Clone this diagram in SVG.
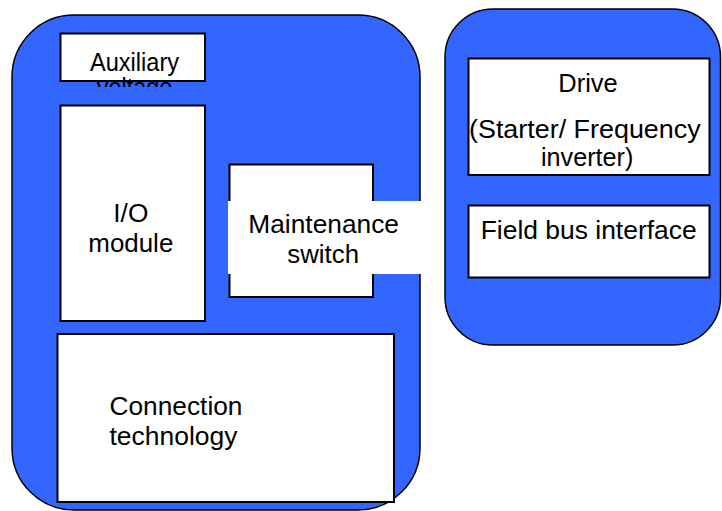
<svg xmlns="http://www.w3.org/2000/svg" width="722" height="511" viewBox="0 0 722 511">
<style>
.cont{fill:#3366FF;stroke:#000;stroke-width:1.5}
.box{fill:#fff;stroke:#000;stroke-width:2}
.t{font-family:"Liberation Sans",Arial,sans-serif;font-size:26px;fill:#000}
</style>
<defs>
<clipPath id="auxclip"><rect x="55" y="30" width="160" height="57"/></clipPath>
</defs>
<rect width="722" height="511" fill="#fff"/>
<g id="module-container">
<rect class="cont" x="12" y="15" width="408" height="495" rx="62" ry="62"/>
</g>
<g id="drive-container">
<rect class="cont" x="445" y="9" width="275.5" height="336" rx="48" ry="48"/>
</g>
<g id="auxiliary-voltage">
<rect class="box" x="60.5" y="33.5" width="144.5" height="47.5"/>
<g clip-path="url(#auxclip)">
<text class="t" x="90" y="70.7" textLength="89" lengthAdjust="spacingAndGlyphs">Auxiliary</text>
<text class="t" x="96.7" y="96" textLength="75.6" lengthAdjust="spacingAndGlyphs">voltage</text>
</g>
</g>
<g id="io-module">
<rect class="box" x="60.5" y="105.5" width="144.5" height="215.5"/>
<text class="t" x="113.3" y="221.7" textLength="35" lengthAdjust="spacingAndGlyphs">I/O</text>
<text class="t" x="88.3" y="251.7" textLength="85" lengthAdjust="spacingAndGlyphs">module</text>
</g>
<g id="maintenance-switch">
<rect class="box" x="229.5" y="164.5" width="143.5" height="132.5"/>
<rect x="228" y="201" width="193" height="73" fill="#fff"/>
<text class="t" x="248.3" y="233.3" textLength="150.7" lengthAdjust="spacingAndGlyphs">Maintenance</text>
<text class="t" x="287.3" y="263.3" textLength="71.7" lengthAdjust="spacingAndGlyphs">switch</text>
</g>
<g id="connection-technology">
<rect class="box" x="57.5" y="334" width="336.5" height="168"/>
<text class="t" x="109.5" y="414.5" textLength="133" lengthAdjust="spacingAndGlyphs">Connection</text>
<text class="t" x="109.5" y="445" textLength="128" lengthAdjust="spacingAndGlyphs">technology</text>
</g>
<g id="drive">
<rect class="box" x="468.5" y="58.5" width="241" height="116.5"/>
<text class="t" x="558.3" y="91.7" textLength="59.4" lengthAdjust="spacingAndGlyphs">Drive</text>
<text class="t" x="469" y="138.3" textLength="231.7" lengthAdjust="spacingAndGlyphs">(Starter/ Frequency</text>
<text class="t" x="541" y="165.5" textLength="92.3" lengthAdjust="spacingAndGlyphs">inverter)</text>
</g>
<g id="field-bus-interface">
<rect class="box" x="468.5" y="205.5" width="241" height="72"/>
<text class="t" x="480.7" y="239.3" textLength="216" lengthAdjust="spacingAndGlyphs">Field bus interface</text>
</g>
</svg>
